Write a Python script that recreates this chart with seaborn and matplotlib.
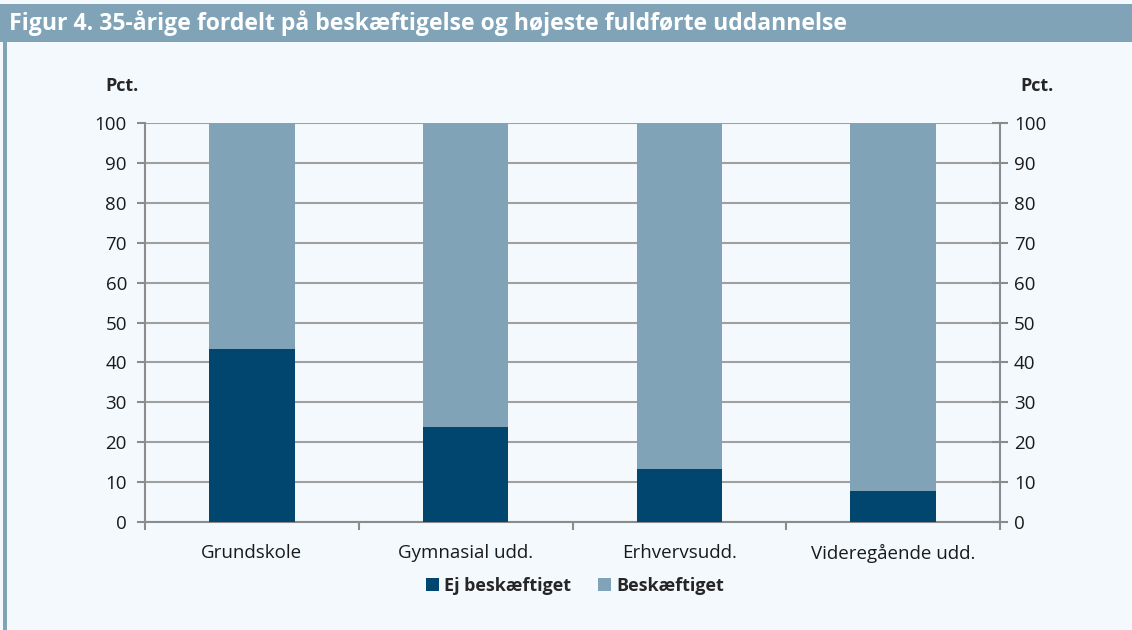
import numpy as np
import pandas as pd
import matplotlib.pyplot as plt
import seaborn as sns
from matplotlib.patches import Rectangle
from matplotlib.ticker import FixedLocator

# --- Data ---
categories = ["Grundskole", "Gymnasial udd.", "Erhvervsudd.", "Videregående udd."]
ej_beskaeftiget = [43.4, 23.8, 13.3, 7.8]
beskaeftiget = [100 - v for v in ej_beskaeftiget]
series_names = ["Ej beskæftiget", "Beskæftiget"]
yticks = list(range(0, 101, 10))

dark = "#00466E"
light = "#80A3B8"
bg = "#F4F9FD"
grid = "#A0A0A0"

sns.set_theme(style="white")
plt.rcParams['font.family'] = ['Open Sans', 'DejaVu Sans']

fig = plt.figure(figsize=(11.32, 6.30), dpi=100, facecolor=bg)

# title bar and left border
fig.patches.append(Rectangle((0, 1 - 42/630), 1, 38/630, transform=fig.transFigure,
                             facecolor=light, edgecolor="none", zorder=0))
fig.patches.append(Rectangle((3/1132, 0), 4/1132, 1 - 42/630, transform=fig.transFigure,
                             facecolor=light, edgecolor="none", zorder=0))
fig.text(9/1132, 1 - 23/630, "Figur 4. 35-årige fordelt på beskæftigelse og højeste fuldførte uddannelse",
         color="white", fontsize=16.6, fontweight="bold", va="center", ha="left")

ax = fig.add_axes([145/1132, 1 - 522/630, 855/1132, 399/630])
ax.set_facecolor(bg)

df = pd.DataFrame({"kategori": categories, "total": [a + b for a, b in zip(ej_beskaeftiget, beskaeftiget)],
                   "ej": ej_beskaeftiget})
sns.barplot(data=df, x="kategori", y="total", color=light, width=0.4, ax=ax,
            saturation=1, label=series_names[1], zorder=3, linewidth=0)
sns.barplot(data=df, x="kategori", y="ej", color=dark, width=0.4, ax=ax,
            saturation=1, label=series_names[0], zorder=4, linewidth=0)

ax.set_ylim(0, 100)
ax.set_xlim(-0.5, 3.5)
ax.set_yticks(yticks)
ax.yaxis.grid(True, color=grid, linewidth=1.5, zorder=0)
ax.set_axisbelow(True)
ax.set_xlabel("")
ax.set_ylabel("")

ax.spines["top"].set_visible(False)
for s in ["left", "right", "bottom"]:
    ax.spines[s].set_color("#8C8C8C")
    ax.spines[s].set_linewidth(1.5)

ax.tick_params(axis="y", which="major", left=True, right=False, direction="out",
               length=6, width=1.5, color="#8C8C8C", labelsize=13.5, labelcolor="#1a1a1a", pad=7)
ax.tick_params(axis="x", which="major", bottom=False, labelsize=13.5, labelcolor="#1a1a1a", pad=10)
ax.xaxis.set_minor_locator(FixedLocator([-0.5, 0.5, 1.5, 2.5, 3.5]))
ax.tick_params(axis="x", which="minor", bottom=True, direction="out", length=6,
               width=1.5, color="#8C8C8C")

ax2 = ax.twinx()
ax2.set_ylim(0, 100)
ax2.set_yticks(yticks)
for s in ["top", "left", "bottom", "right"]:
    ax2.spines[s].set_visible(False)
ax2.tick_params(axis="y", right=True, direction="inout", length=12, width=1.5,
                color="#8C8C8C", labelsize=13.5, labelcolor="#1a1a1a", pad=4)
ax2.grid(False)

fig.text(122/1132, 1 - 86/630, "Pct.", fontsize=13, fontweight="bold", ha="center", va="center")
fig.text(1037/1132, 1 - 86/630, "Pct.", fontsize=13, fontweight="bold", ha="center", va="center")

handles, labels = ax.get_legend_handles_labels()
order = [labels.index(n) for n in series_names]
fig.legend([handles[i] for i in order], [labels[i] for i in order],
           loc="center", bbox_to_anchor=(575/1132, 1 - 586/630), ncol=2, frameon=False,
           handlelength=0.7, handleheight=0.7, handletextpad=0.3, columnspacing=1.5,
           prop={"size": 13, "weight": "bold"})
if ax.get_legend() is not None:
    ax.get_legend().remove()

fig.savefig("out.png", dpi=100, facecolor=bg)
